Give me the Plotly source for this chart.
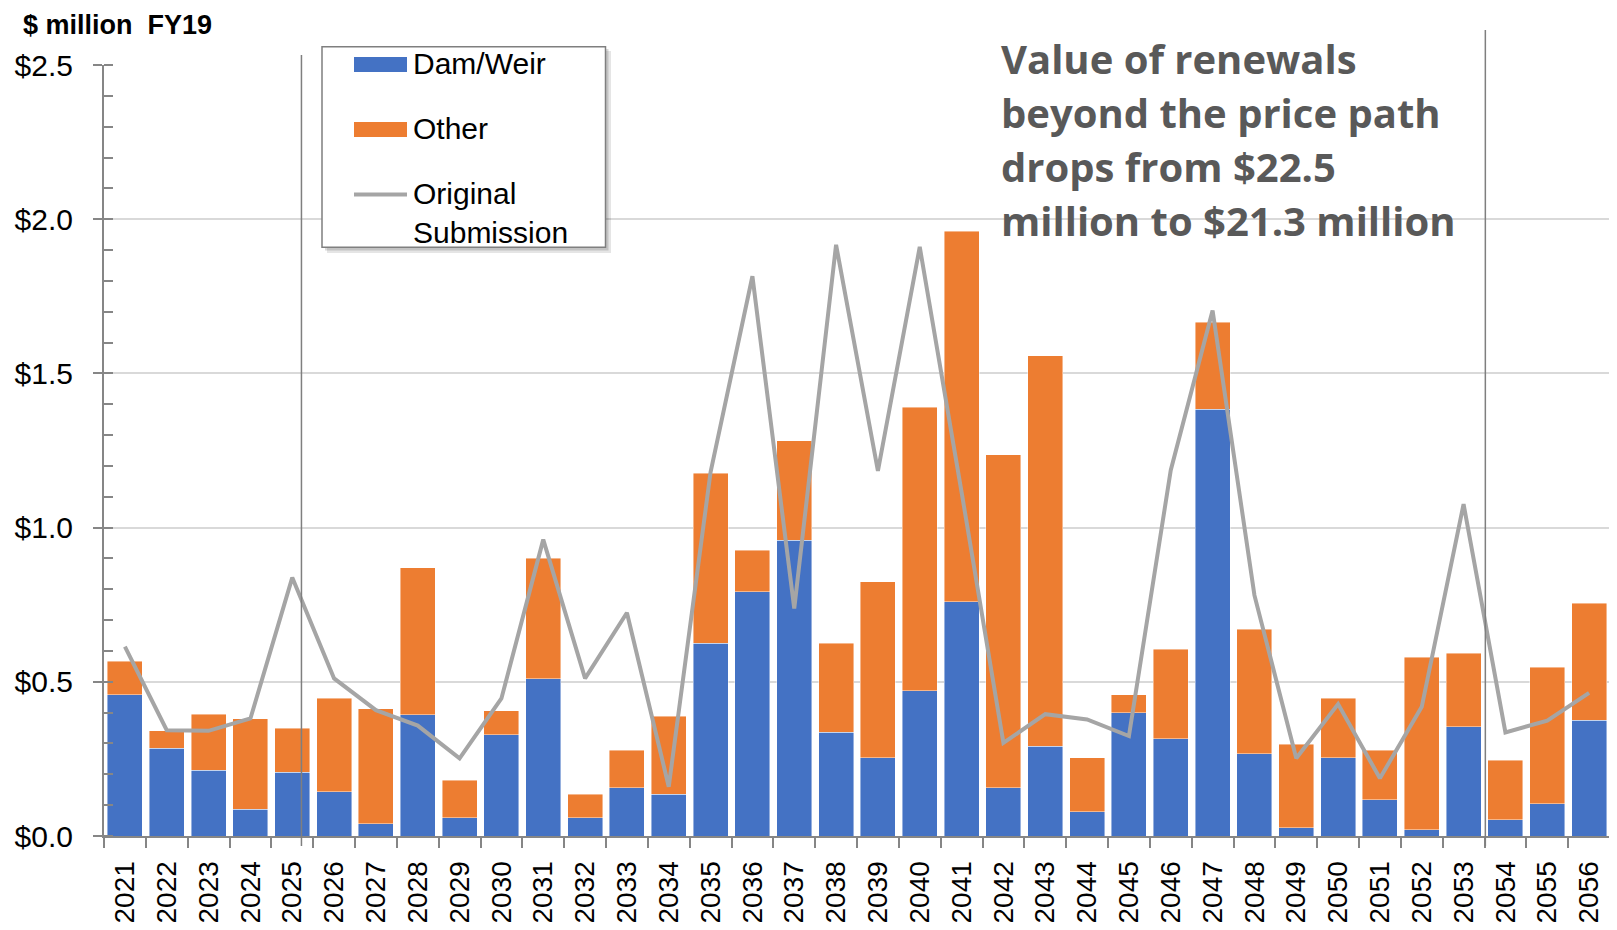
import plotly.graph_objects as go

# ---------------- data ----------------
years = [str(y) for y in range(2021, 2057)]

dam_weir = [0.458, 0.284, 0.214, 0.086, 0.207, 0.144, 0.040, 0.393, 0.059, 0.329,
            0.510, 0.059, 0.156, 0.136, 0.625, 0.792, 0.959, 0.336, 0.253, 0.471,
            0.760, 0.156, 0.291, 0.079, 0.400, 0.316, 1.384, 0.266, 0.027, 0.253,
            0.118, 0.021, 0.354, 0.053, 0.105, 0.375]

other = [0.109, 0.058, 0.180, 0.295, 0.142, 0.302, 0.373, 0.477, 0.122, 0.077,
         0.390, 0.077, 0.122, 0.252, 0.552, 0.135, 0.322, 0.289, 0.571, 0.919,
         1.201, 1.080, 1.267, 0.174, 0.058, 0.290, 0.282, 0.405, 0.271, 0.193,
         0.160, 0.559, 0.239, 0.193, 0.443, 0.379]

original_submission = [0.614, 0.343, 0.341, 0.381, 0.838, 0.511, 0.408, 0.358, 0.252, 0.446,
                       0.961, 0.511, 0.724, 0.160, 1.180, 1.815, 0.738, 1.917, 1.184, 1.910,
                       1.115, 0.302, 0.395, 0.378, 0.324, 1.186, 1.704, 0.781, 0.252, 0.428,
                       0.187, 0.419, 1.076, 0.336, 0.374, 0.464]

y_tick_values = [0.0, 0.5, 1.0, 1.5, 2.0, 2.5]
y_tick_labels = ["$0.0", "$0.5", "$1.0", "$1.5", "$2.0", "$2.5"]
series_names = ["Dam/Weir", "Other", "Original<br>Submission"]
divider_positions = [4.22, 32.52]   # category-index positions of the vertical markers
note_lines = ["Value of renewals", "beyond the price path",
              "drops from $22.5", "million to $21.3 million"]

# ---------------- layout geometry ----------------
# page body has an 8px margin, so the figure is sized/offset to keep the plot area
# at page pixels x 104..1610, y 65..836
PAGE_OFF = 8
WIDTH, HEIGHT = 1617 - PAGE_OFF, 930 - PAGE_OFF
PLOT_L, PLOT_R, PLOT_T, PLOT_B = 104, 1610, 65, 836
L = PLOT_L - PAGE_OFF
T = PLOT_T - PAGE_OFF
R = WIDTH - (PLOT_R - PAGE_OFF)
B = HEIGHT - (PLOT_B - PAGE_OFF)
PW, PH = PLOT_R - PLOT_L, PLOT_B - PLOT_T


def px(x):
    return (x - PLOT_L) / PW


def py(y):
    return (PLOT_B - y) / PH


BLUE = "#4472C4"
ORANGE = "#ED7D31"
GREY_LINE = "#A5A5A5"
AXIS = "#868686"
FONT = "Liberation Sans, Arial, sans-serif"

fig = go.Figure()
fig.add_trace(go.Bar(x=years, y=dam_weir, name=series_names[0],
                     marker=dict(color=BLUE, line=dict(color="rgba(255,255,255,0.55)", width=0.8))))
fig.add_trace(go.Bar(x=years, y=other, name=series_names[1],
                     marker=dict(color=ORANGE, line=dict(color="rgba(255,255,255,0.55)", width=0.8))))
fig.add_trace(go.Scatter(x=years, y=original_submission, name=series_names[2], mode="lines",
                         line=dict(color=GREY_LINE, width=4)))

shapes = []
# vertical marker lines
shapes.append(dict(type="line", xref="x", yref="paper", x0=divider_positions[0], x1=divider_positions[0],
                   y0=py(846), y1=py(55), line=dict(color="#7F7F7F", width=1.5), layer="above"))
shapes.append(dict(type="line", xref="x", yref="paper", x0=divider_positions[1], x1=divider_positions[1],
                   y0=py(846), y1=py(30), line=dict(color="#7F7F7F", width=1.5), layer="above"))

# manual legend box with shadow
shapes.append(dict(type="rect", xref="paper", yref="paper", x0=px(327), x1=px(611), y0=py(253), y1=py(51),
                   fillcolor="rgba(0,0,0,0.10)", line=dict(width=0), layer="above"))
shapes.append(dict(type="rect", xref="paper", yref="paper", x0=px(325), x1=px(608.5), y0=py(250.5), y1=py(49),
                   fillcolor="rgba(0,0,0,0.15)", line=dict(width=0), layer="above"))
shapes.append(dict(type="rect", xref="paper", yref="paper", x0=px(322), x1=px(605.5), y0=py(247.3), y1=py(46.7),
                   fillcolor="white", line=dict(color="#7F7F7F", width=1.5), layer="above"))
shapes.append(dict(type="rect", xref="paper", yref="paper", x0=px(354), x1=px(407), y0=py(72), y1=py(57),
                   fillcolor=BLUE, line=dict(width=0), layer="above"))
shapes.append(dict(type="rect", xref="paper", yref="paper", x0=px(354), x1=px(407), y0=py(137), y1=py(122),
                   fillcolor=ORANGE, line=dict(width=0), layer="above"))
shapes.append(dict(type="line", xref="paper", yref="paper", x0=px(354), x1=px(407), y0=py(194.5), y1=py(194.5),
                   line=dict(color=GREY_LINE, width=4), layer="above"))

annotations = []
legend_font = dict(family=FONT, size=30, color="black")
annotations.append(dict(xref="paper", yref="paper", x=px(411), y=py(63), xanchor="left", yanchor="middle",
                        text=series_names[0], showarrow=False, font=legend_font, align="left"))
annotations.append(dict(xref="paper", yref="paper", x=px(411), y=py(128), xanchor="left", yanchor="middle",
                        text=series_names[1], showarrow=False, font=legend_font, align="left"))
annotations.append(dict(xref="paper", yref="paper", x=px(411), y=py(213), xanchor="left", yanchor="middle",
                        text=series_names[2], showarrow=False, font=legend_font, align="left"))

# unit title
annotations.append(dict(xref="paper", yref="paper", x=px(22), y=py(25), xanchor="left", yanchor="middle",
                        text="<b>$ million&nbsp; FY19</b>", showarrow=False, borderpad=0,
                        font=dict(family=FONT, size=27, color="black")))

# commentary text
note_centres = [58, 112, 166, 221]
for line_text, yc in zip(note_lines, note_centres):
    annotations.append(dict(xref="paper", yref="paper", x=px(999), y=py(yc), xanchor="left", yanchor="middle",
                            text="<b>" + line_text + "</b>", showarrow=False,
                            font=dict(family="Open Sans, sans-serif", size=40, color="#595959")))

fig.update_layout(
    width=WIDTH, height=HEIGHT, autosize=False,
    margin=dict(l=L, r=R, t=T, b=B, pad=0),
    paper_bgcolor="white", plot_bgcolor="white",
    barmode="stack", bargap=0.16,
    showlegend=False,
    shapes=shapes, annotations=annotations,
    font=dict(family=FONT, color="black"),
)

fig.update_yaxes(
    range=[0, 2.5], tickmode="array", tickvals=y_tick_values, ticktext=y_tick_labels,
    tickfont=dict(family=FONT, size=30, color="black"),
    showgrid=True, gridcolor="#D9D9D9", gridwidth=1.5,
    showline=True, linecolor=AXIS, linewidth=2,
    ticks="outside", ticklen=9, tickwidth=2, tickcolor=AXIS,
    minor=dict(dtick=0.1, ticks="inside", ticklen=9, tickwidth=1.5, tickcolor=AXIS, showgrid=False),
    zeroline=False, automargin=False, ticklabelstandoff=14,
)
fig.update_xaxes(
    type="category", tickangle=-90,
    tickfont=dict(family=FONT, size=28, color="black"),
    showline=True, linecolor=AXIS, linewidth=2,
    ticks="outside", tickson="boundaries", ticklen=10, tickwidth=2, tickcolor=AXIS,
    showgrid=False, automargin=False, ticklabelstandoff=12,
)

fig.write_html("out.html")
